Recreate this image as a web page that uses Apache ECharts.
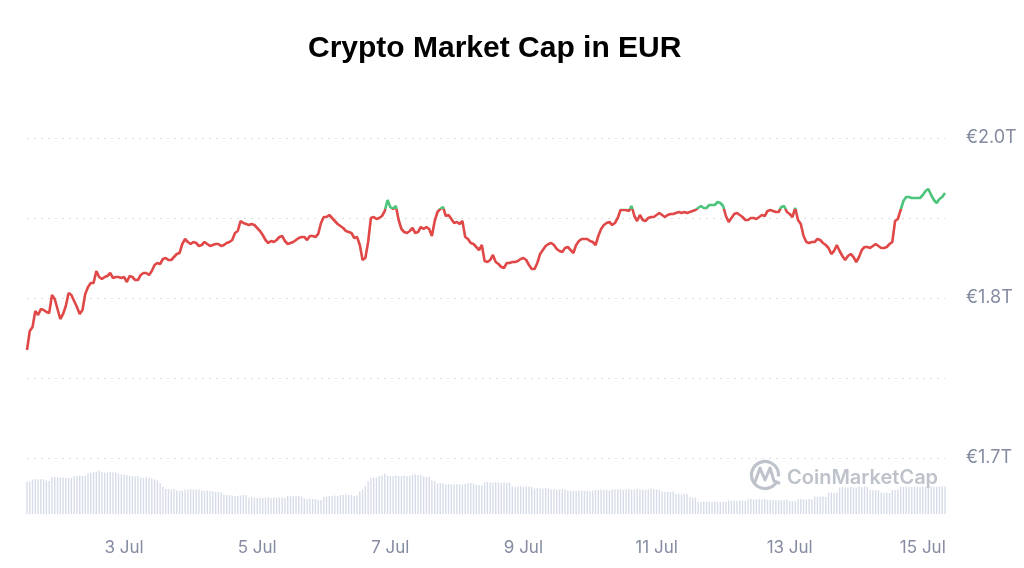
<!DOCTYPE html>
<html><head><meta charset="utf-8">
<script src="https://cdn.jsdelivr.net/npm/echarts@6/dist/echarts.min.js"></script>
<style>html,body{margin:0;padding:0;background:#fff}#c{width:1024px;height:568px}</style>
</head><body><div id="c"></div>
<script>
// Hourly samples, starting 1 Jul 13:00
const startDay = 1, startHour = 13, monthName = 'Jul';

// Total market cap, trillions EUR
const marketCap = [
1.788,1.807,1.811,1.827,1.823,1.829,1.828,1.826,1.825,1.843,
1.839,1.829,1.819,1.824,1.832,1.845,1.843,1.837,1.831,1.824,
1.828,1.844,1.851,1.855,1.855,1.867,1.861,1.859,1.861,1.862,
1.865,1.860,1.861,1.861,1.860,1.861,1.856,1.862,1.861,1.858,
1.858,1.863,1.865,1.865,1.863,1.867,1.873,1.875,1.874,1.879,
1.880,1.878,1.878,1.881,1.884,1.885,1.894,1.899,1.896,1.894,
1.896,1.895,1.892,1.893,1.896,1.894,1.892,1.893,1.894,1.894,
1.892,1.893,1.895,1.896,1.898,1.905,1.907,1.917,1.915,1.914,
1.913,1.914,1.913,1.910,1.907,1.903,1.898,1.895,1.897,1.896,
1.898,1.901,1.902,1.897,1.894,1.895,1.896,1.898,1.900,1.901,
1.901,1.898,1.902,1.902,1.901,1.904,1.915,1.921,1.921,1.923,
1.920,1.917,1.914,1.912,1.910,1.907,1.906,1.905,1.900,1.901,
1.893,1.878,1.880,1.896,1.920,1.921,1.919,1.920,1.922,1.927,
1.938,1.931,1.929,1.932,1.918,1.909,1.906,1.905,1.907,1.910,
1.905,1.906,1.911,1.909,1.911,1.909,1.902,1.917,1.926,1.929,
1.931,1.922,1.923,1.919,1.915,1.916,1.914,1.917,1.901,1.899,
1.895,1.894,1.891,1.888,1.893,1.877,1.876,1.878,1.883,1.876,
1.874,1.871,1.870,1.875,1.875,1.876,1.876,1.877,1.879,1.880,
1.878,1.873,1.869,1.869,1.875,1.884,1.888,1.892,1.894,1.895,
1.893,1.889,1.887,1.886,1.890,1.891,1.888,1.885,1.893,1.897,
1.899,1.899,1.899,1.897,1.896,1.893,1.902,1.909,1.913,1.915,
1.916,1.913,1.915,1.920,1.928,1.928,1.928,1.927,1.932,1.922,
1.917,1.923,1.918,1.917,1.920,1.921,1.921,1.923,1.925,1.923,
1.921,1.923,1.924,1.924,1.925,1.926,1.925,1.926,1.925,1.926,
1.927,1.928,1.930,1.932,1.930,1.930,1.933,1.933,1.933,1.936,
1.935,1.932,1.922,1.916,1.920,1.924,1.925,1.923,1.921,1.918,
1.918,1.920,1.920,1.919,1.921,1.923,1.922,1.927,1.928,1.927,
1.926,1.926,1.931,1.932,1.926,1.924,1.921,1.930,1.918,1.914,
1.902,1.896,1.895,1.896,1.896,1.899,1.898,1.895,1.893,1.890,
1.884,1.887,1.893,1.887,1.882,1.878,1.882,1.884,1.881,1.876,
1.881,1.888,1.891,1.891,1.890,1.892,1.894,1.892,1.890,1.890,
1.891,1.894,1.896,1.917,1.919,1.928,1.937,1.941,1.941,1.940,
1.940,1.940,1.940,1.943,1.947,1.949,1.943,1.938,1.935,1.939,
1.941,1.945
];

// 24h volume, billions EUR
const volume = [
64,65,69,70,69,70,69,67,66,73,
74,73,73,73,72,73,72,76,76,77,
76,76,81,82,84,85,87,84,83,83,
84,83,83,80,79,79,78,76,76,75,
76,73,72,73,72,71,69,67,62,55,
50,50,49,50,47,46,47,49,49,50,
49,49,49,47,46,47,46,46,44,44,
43,39,38,38,37,36,36,37,38,38,
33,34,33,32,33,32,33,33,32,33,
32,33,33,32,36,36,35,36,36,35,
31,30,31,30,30,28,28,34,35,36,
36,37,36,38,38,39,38,38,36,37,
45,49,56,65,72,73,73,76,77,81,
77,76,76,77,76,76,77,76,76,79,
79,78,79,75,74,75,67,66,61,62,
61,59,60,59,59,60,59,59,60,61,
62,61,58,58,57,63,64,63,63,64,
63,62,63,62,63,55,54,55,55,54,
55,55,54,51,52,51,51,52,51,49,
50,49,49,50,49,47,46,47,46,47,
47,46,47,46,47,48,48,49,48,48,
47,49,49,50,49,48,49,50,49,49,
50,49,49,48,49,50,49,49,48,45,
44,45,44,45,40,40,39,40,40,34,
33,33,25,24,25,24,25,24,25,24,
24,25,24,27,26,27,26,27,27,26,
29,30,29,29,30,29,30,28,28,29,
28,27,28,28,29,26,26,25,29,30,
29,29,30,29,35,34,35,35,34,42,
43,42,43,53,54,53,53,54,53,53,
55,54,55,54,48,48,47,48,43,42,
43,42,48,48,49,55,54,55,55,54,
55,55,54,55,55,54,55,55,54,55,
55,55
];

// Y axis ticks (1.68 .. 2.00 step 0.08), labels on every other line
const yMin = 1.68, yMax = 2.0, yStep = 0.08;
const yTickLabels = ['€1.7T', '', '€1.8T', '', '€2.0T'];
// Colour threshold (above -> green)
const upThreshold = 1.929;

const categories = [];
for (let i = 0; i < marketCap.length; i++) {
  const t = startHour + i;
  const d = startDay + Math.floor(t / 24);
  const hh = t % 24;
  categories.push(d + ' ' + monthName + ' ' + String(hh).padStart(2, '0') + ':00');
}

const RED = '#e04848', GREEN = '#4cc47c', AXIS_TXT = '#858ca2';
const chart = echarts.init(document.getElementById('c'), null, {renderer: 'canvas'});
const option = {
  animation: false,
  backgroundColor: '#ffffff',
  title: {
    text: 'Crypto Market Cap in EUR',
    left: 308, top: 34, padding: 0,
    textStyle: {fontFamily: 'Liberation Sans, Arial, sans-serif', fontWeight: 'bold', fontSize: 30, color: '#000'}
  },
  grid: [
    {left: 27, right: 79, top: 138, bottom: 110},
    {left: 27, right: 79, top: 414, bottom: 54}
  ],
  xAxis: [
    {type: 'category', gridIndex: 0, data: categories, boundaryGap: false,
     axisLine: {show: false}, axisTick: {show: false}, axisLabel: {show: false}, splitLine: {show: false}},
    {type: 'category', gridIndex: 1, data: categories, boundaryGap: false,
     axisLine: {show: false}, axisTick: {show: false},
     axisLabel: {
       interval: function (idx, val) { const p = String(val).split(' '); return p[2] === '00:00' && (+p[0]) % 2 === 1; },
       formatter: function (val) { const p = String(val).split(' '); return p[0] + ' ' + p[1]; },
       color: AXIS_TXT, fontFamily: 'Inter, sans-serif', fontSize: 17, margin: 25
     }}
  ],
  yAxis: [
    {type: 'value', gridIndex: 0, position: 'right', min: yMin, max: yMax, interval: yStep,
     axisLine: {show: false}, axisTick: {show: false},
     splitLine: {lineStyle: {color: '#dcdfe6', type: [2, 5], width: 1}},
     axisLabel: {formatter: function (v, i) { return yTickLabels[i] || ''; },
       color: AXIS_TXT, fontFamily: 'Inter, sans-serif', fontSize: 18, margin: 21}},
    {type: 'value', gridIndex: 1, min: 0, max: 200, show: false, splitLine: {show: false}}
  ],
  visualMap: [{
    type: 'piecewise', show: false, seriesIndex: 0, dimension: 1,
    pieces: [{min: upThreshold, max: 3, color: GREEN}, {min: 0, max: upThreshold, color: RED}],
    outOfRange: {color: RED}
  }],
  graphic: [
    {type: 'arc', shape: {cx: 765, cy: 475, r: 13.5, startAngle: 0.55, endAngle: Math.PI * 2 + 0.1},
     style: {stroke: '#bdc2cb', lineWidth: 3.2, fill: null}, z: 5},
    {type: 'polyline', shape: {points: [[755, 482], [760, 468], [765, 480], [770, 468], [774, 481], [779, 483]]},
     style: {stroke: '#bdc2cb', lineWidth: 3, fill: null, lineJoin: 'round', lineCap: 'round'}, z: 5},
    {type: 'text', x: 787, y: 478, z: 5,
     style: {text: 'CoinMarketCap', fill: '#bdc2cb', font: '600 20px Inter, sans-serif', textVerticalAlign: 'middle'}}
  ],
  series: [
    {type: 'line', xAxisIndex: 0, yAxisIndex: 0, data: marketCap, showSymbol: false,
     lineStyle: {width: 2.6}, z: 3},
    {type: 'bar', xAxisIndex: 1, yAxisIndex: 1, data: volume, barWidth: '50%',
     itemStyle: {color: '#d6dce8'}, z: 1}
  ]
};
chart.setOption(option);
</script></body></html>
